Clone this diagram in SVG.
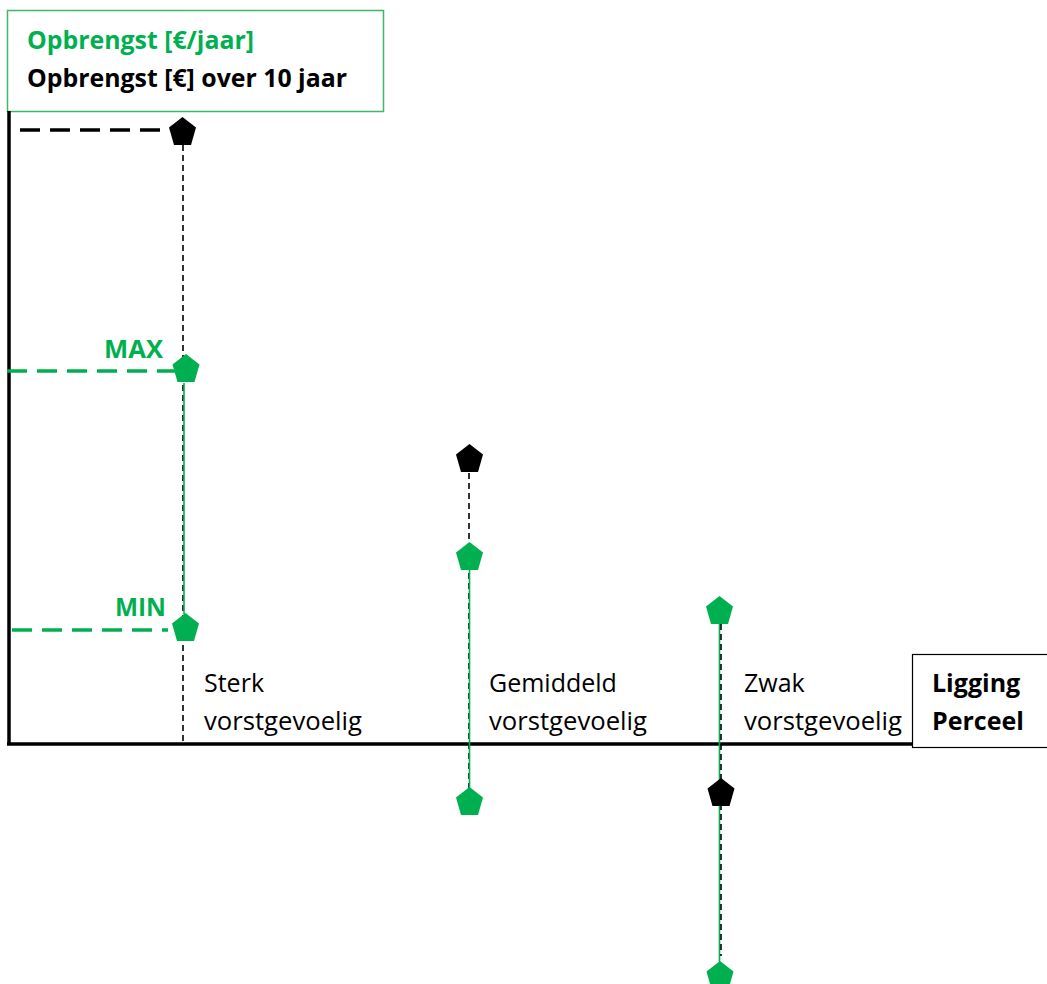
<svg xmlns="http://www.w3.org/2000/svg" width="1047" height="984" viewBox="0 0 1047 984">
<style>
.lbl{font-family:"Open Sans","Noto Sans",sans-serif;font-size:25px;fill:#000}
.b{font-weight:bold}
.g{fill:#00B050}
.axis{stroke:#000;stroke-width:3.5;fill:none}
.vd{stroke:#000;stroke-width:1.6;stroke-dasharray:6 4;fill:none}
.vg{stroke:#00B050;stroke-width:1.6;fill:none}
.hdk{stroke:#000;stroke-width:3.5;stroke-dasharray:20 10;fill:none}
.hdg{stroke:#00B050;stroke-width:3.5;stroke-dasharray:20 10;fill:none}
</style>
<defs>
<path id="pent" d="M0,-15 L13.5,-4.5 L8.5,13 L-8.5,13 L-13.5,-4.5 Z"/>
</defs>
<rect width="1047" height="984" fill="#fff"/>
<g id="title">
<rect x="7.5" y="10.5" width="376" height="101" fill="#fff" stroke="#3DB86A" stroke-width="1.5"/>
<text x="27" y="49" class="lbl b g" textLength="227" lengthAdjust="spacingAndGlyphs">Opbrengst [€/jaar]</text>
<text x="27" y="87" class="lbl b" textLength="320" lengthAdjust="spacingAndGlyphs">Opbrengst [€] over 10 jaar</text>
</g>
<g id="connectors">
<line class="axis" x1="9" y1="111" x2="9" y2="745"/>
<line class="axis" x1="7" y1="744" x2="1008" y2="744"/>
<line class="hdk" x1="20" y1="130" x2="170" y2="130"/>
<line class="hdg" x1="7" y1="371" x2="175" y2="371"/>
<line class="hdg" x1="12" y1="630" x2="168" y2="630"/>
<line class="vd" x1="183" y1="145" x2="183" y2="742"/>
<line class="vg" x1="184" y1="383" x2="184" y2="614"/>
<line class="vd" x1="469" y1="473" x2="469" y2="808"/>
<line class="vg" x1="469.5" y1="570" x2="469.5" y2="788"/>
<line class="vg" x1="719.5" y1="624" x2="719.5" y2="962"/>
<line class="vd" x1="721" y1="624" x2="721" y2="956"/>
</g>
<g id="sterk">
<use href="#pent" x="182.5" y="132" fill="#000"/>
<use href="#pent" x="186" y="369" fill="#00B050"/>
<use href="#pent" x="185.5" y="628" fill="#00B050"/>
<text x="104" y="358" class="lbl b g" textLength="59" lengthAdjust="spacingAndGlyphs">MAX</text>
<text x="115" y="616" class="lbl b g" textLength="51" lengthAdjust="spacingAndGlyphs">MIN</text>
<text x="204" y="692" class="lbl">Sterk</text>
<text x="204" y="730" class="lbl" textLength="158" lengthAdjust="spacingAndGlyphs">vorstgevoelig</text>
</g>
<g id="gemiddeld">
<use href="#pent" x="469.5" y="459" fill="#000"/>
<use href="#pent" x="469.5" y="557" fill="#00B050"/>
<use href="#pent" x="469.5" y="802" fill="#00B050"/>
<text x="489" y="692" class="lbl">Gemiddeld</text>
<text x="489" y="730" class="lbl" textLength="158" lengthAdjust="spacingAndGlyphs">vorstgevoelig</text>
</g>
<g id="zwak">
<use href="#pent" x="719.5" y="611" fill="#00B050"/>
<use href="#pent" x="721" y="793" fill="#000"/>
<use href="#pent" x="720" y="976" fill="#00B050"/>
<text x="744" y="692" class="lbl">Zwak</text>
<text x="744" y="730" class="lbl" textLength="158" lengthAdjust="spacingAndGlyphs">vorstgevoelig</text>
</g>
<g id="ligging">
<rect x="912.5" y="654.5" width="140" height="93" fill="#fff" stroke="#000" stroke-width="1.2"/>
<text x="932" y="692" class="lbl b">Ligging</text>
<text x="932" y="730" class="lbl b">Perceel</text>
</g>
</svg>
